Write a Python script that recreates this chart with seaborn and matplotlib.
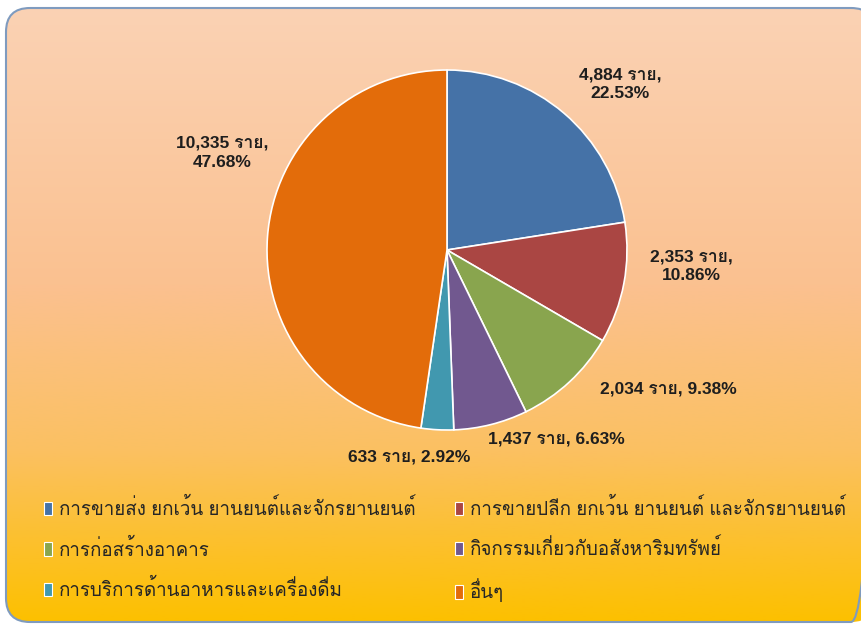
import numpy as np
import matplotlib as mpl
mpl.use("Agg")
from matplotlib import pyplot as plt
from matplotlib import font_manager
from matplotlib.ft2font import FT2Font
from matplotlib.patches import FancyBboxPatch, Patch
from matplotlib.colors import LinearSegmentedColormap
import seaborn as sns

categories = [
    "การขายส่ง ยกเว้น ยานยนต์และจักรยานยนต์",
    "การขายปลีก ยกเว้น ยานยนต์ และจักรยานยนต์",
    "การก่อสร้างอาคาร",
    "กิจกรรมเกี่ยวกับอสังหาริมทรัพย์",
    "การบริการด้านอาหารและเครื่องดื่ม",
    "อื่นๆ",
]
counts = [4884, 2353, 2034, 1437, 633, 10335]
two_line = [True, True, False, False, False, True]

# label anchor points, in pie-radius units
label_xy = [(0.96, 0.92), (1.36, -0.09), (1.23, -0.77), (0.61, -1.05), (-0.21, -1.15), (-1.25, 0.54)]

colors = sns.color_palette(["#4572A7", "#AA4643", "#89A54E", "#71588F", "#4198AF", "#E36C0A"])

sns.set_theme(style="white")

# find a family that can draw Thai
thai_fams = []
for f in font_manager.fontManager.ttflist:
    try:
        if FT2Font(f.fname).get_char_index(0x0E01) and f.name not in thai_fams:
            thai_fams.append(f.name)
    except Exception:
        pass
plt.rcParams["font.family"] = ["Liberation Sans"] + thai_fams[:1] + ["DejaVu Sans"]

W, H = 862, 626
fig = plt.figure(figsize=(W / 100, H / 100), dpi=100)
fig.patch.set_facecolor("white")

# rounded gradient panel
bg = fig.add_axes([0, 0, 1, 1], zorder=0)
bg.set_xlim(0, W)
bg.set_ylim(H, 0)
bg.axis("off")
grad = LinearSegmentedColormap.from_list("g", [(0, "#FAD2B4"), (0.45, "#FBC190"), (0.72, "#FBC062"), (1.0, "#FDC000")])
img = bg.imshow(np.linspace(0, 1, 256)[:, None], cmap=grad, aspect="auto", extent=(6, 875, 622, 8))
panel = FancyBboxPatch((6, 8), 869, 614, boxstyle="round,pad=0,rounding_size=24",
                       fc="none", ec="#7F9BBF", lw=1.5, zorder=3)
bg.add_patch(panel)
img.set_clip_path(panel)

# pie
R = 180
cx, cy = 447, 250
L = 2.0
ax = fig.add_axes([(cx - L * R) / W, (H - cy - L * R) / H, 2 * L * R / W, 2 * L * R / H], zorder=2)
wedges, _ = ax.pie(counts, colors=colors, startangle=90, counterclock=False,
                   wedgeprops=dict(edgecolor="white", linewidth=1.2))
ax.set_xlim(-L, L)
ax.set_ylim(-L, L)
ax.set_aspect("equal")
ax.axis("off")

total = sum(counts)
for v, tl, (lx, ly) in zip(counts, two_line, label_xy):
    sep = ",\n" if tl else ", "
    txt = f"{v:,} ราย{sep}{v / total * 100:.2f}%"
    ax.text(lx, ly, txt, ha="center", va="center", fontsize=12.5, fontweight="bold",
            color="#1E1E1E", linespacing=1.35)

# legend filled row by row (matplotlib fills columns first)
order = [0, 2, 4, 1, 3, 5]
handles = [Patch(facecolor=colors[i], edgecolor="white", lw=0.8) for i in order]
labels = [categories[i] for i in order]
fig.legend(handles, labels, loc="upper left", bbox_to_anchor=(44 / W, 1 - 498 / H),
           ncol=2, frameon=False, fontsize=13.5, handlelength=0.45, handleheight=0.75,
           handletextpad=0.35, labelspacing=1.03, columnspacing=2.1, borderpad=0, borderaxespad=0)

fig.savefig("out.png", dpi=100, facecolor="white")
